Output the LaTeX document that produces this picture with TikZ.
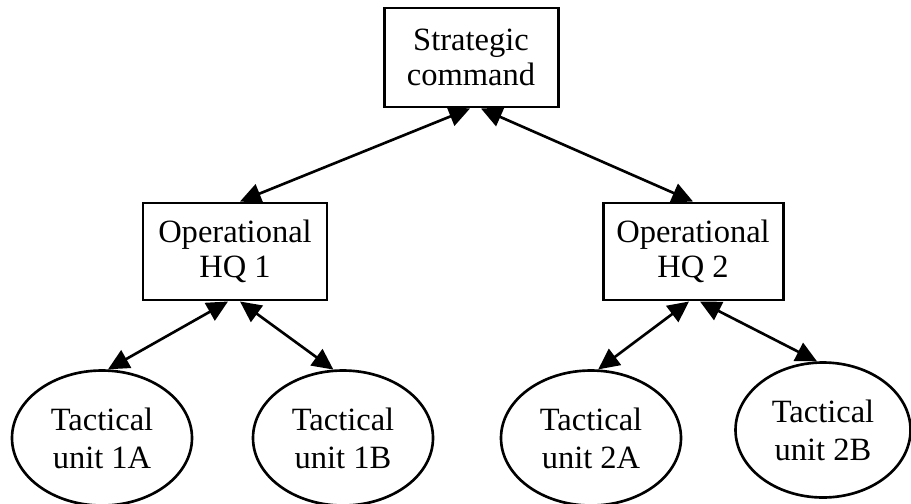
\documentclass[tikz,border=0pt]{standalone}
\usepackage{fontspec}
\setmainfont{Liberation Serif}
\usetikzlibrary{arrows.meta,shapes.geometric}

\begin{document}
\begin{tikzpicture}[
    every node/.style={font=\fontsize{18.5}{20}\selectfont,align=center,inner sep=0pt},
    hqbox/.style={draw,line width=1.7pt,minimum width=3.6cm,minimum height=1.94cm},
    unit/.style={draw,ellipse,line width=1.5pt,minimum width=3.6cm,minimum height=2.7cm,
        font=\fontsize{18.5}{21.5}\selectfont},
    link/.style={line width=1.5pt,{Triangle[length=0.42cm,width=0.4cm]}-{Triangle[length=0.42cm,width=0.4cm]}}]
        \useasboundingbox (0,0) rectangle (18.22,-10.08);
        \node[hqbox,minimum width=3.48cm,minimum height=1.98cm] (sc) at (9.42,-1.15) {Strategic\\command};
        \node[hqbox,minimum width=3.68cm] (hq1) at (4.70,-5.03) {Operational\\HQ 1};
        \node[hqbox] (hq2) at (13.86,-5.03) {Operational\\HQ 2};
        \node[unit] (u1a) at (2.04,-8.76) {Tactical\\unit 1A};
        \node[unit] (u1b) at (6.86,-8.76) {Tactical\\unit 1B};
        \node[unit] (u2a) at (11.82,-8.76) {Tactical\\unit 2A};
        \node[unit,minimum width=3.5cm] (u2b) at (16.46,-8.60) {Tactical\\unit 2B};
        \draw[link] ([xshift=-0.02cm]sc.south) -- ([xshift=0.1cm]hq1.north);
        \draw[link] ([xshift=0.2cm]sc.south) -- (hq2.north);
        \draw[link] ([xshift=-0.14cm]hq1.south) -- (u1a.85);
        \draw[link] ([xshift=0.1cm]hq1.south) -- (u1b.98);
        \draw[link] ([xshift=-0.08cm]hq2.south) -- (u2a.84);
        \draw[link] ([xshift=0.14cm]hq2.south) -- (u2b.95);
      \end{tikzpicture}
\end{document}
